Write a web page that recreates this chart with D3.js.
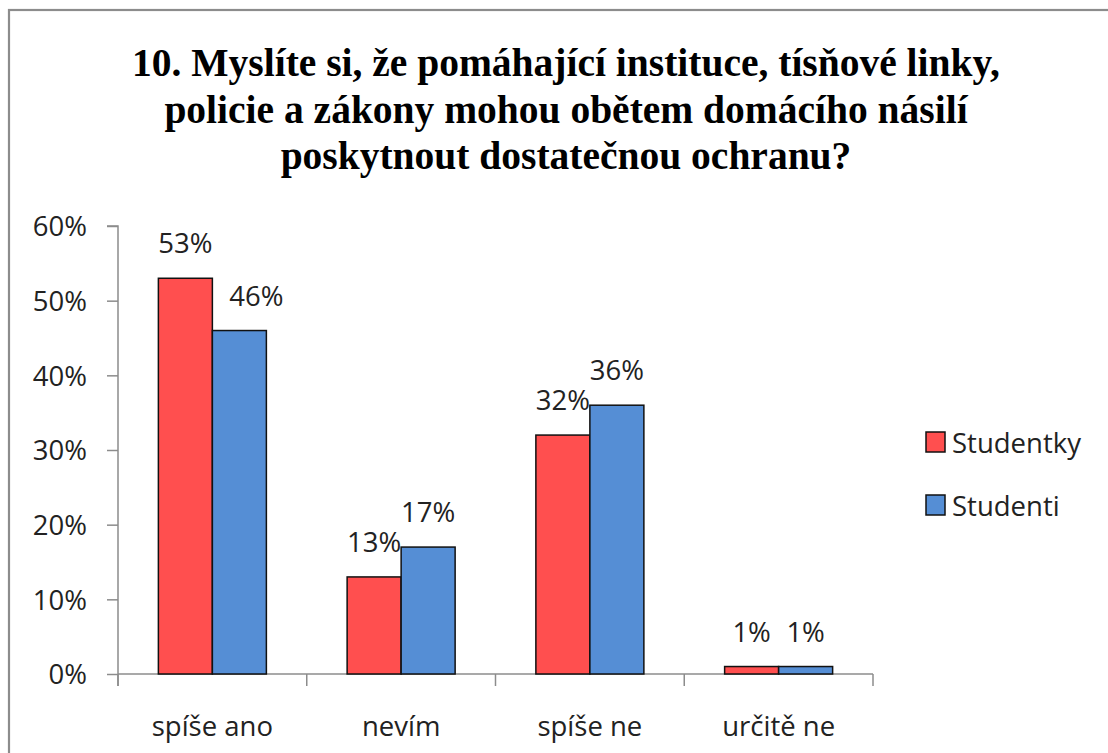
<!DOCTYPE html>
<html>
<head>
<meta charset="utf-8">
<script src="https://cdn.jsdelivr.net/npm/d3@7"></script>
<style>
  body { margin: 0; background: #fff; }
  svg { display: block; }
</style>
</head>
<body>
<div id="chart"></div>
<script>
const width = 1108;
const height = 753;

const titleLines = [
  "10. Myslíte si, že pomáhající instituce, tísňové linky,",
  "policie a zákony mohou obětem domácího násilí",
  "poskytnout dostatečnou ochranu?"
];
const categories = ["spíše ano", "nevím", "spíše ne", "určitě ne"];
const seriesNames = ["Studentky", "Studenti"];
const studentky = [53, 13, 32, 1];
const studenti = [46, 17, 36, 1];
const yTicks = [0, 10, 20, 30, 40, 50, 60];

const colors = ["#ff4f4f", "#558ed5"];
const font = "'Open Sans', sans-serif";
const fs = 27.5;

const svg = d3.select("#chart")
  .append("svg")
  .attr("width", width)
  .attr("height", height);

// outer frame (runs off the right and bottom edges)
svg.append("rect")
  .attr("x", 9)
  .attr("y", 10)
  .attr("width", 1120)
  .attr("height", 770)
  .attr("fill", "#fff")
  .attr("stroke", "#8c8c8c")
  .attr("stroke-width", 2.2);

const title = svg.append("text")
  .attr("text-anchor", "middle")
  .style("font-family", "'Liberation Serif', 'Times New Roman', serif")
  .style("font-weight", "bold")
  .style("font-size", "39.5px")
  .attr("fill", "#000");

titleLines.forEach((t, i) => {
  title.append("tspan")
    .attr("x", 566)
    .attr("y", 76 + i * 46.5)
    .text(t);
});

const plot = { left: 118, right: 873, top: 226, bottom: 674 };

const x = d3.scaleBand()
  .domain(categories)
  .range([plot.left, plot.right])
  .paddingInner(0)
  .paddingOuter(0);

const xSub = d3.scaleBand()
  .domain(seriesNames)
  .range([0, 108]);

const y = d3.scaleLinear()
  .domain([0, 60])
  .range([plot.bottom, plot.top]);

const axisColor = "#8c8c8c";

// y axis
const yAxis = svg.append("g")
  .attr("transform", `translate(${plot.left},0)`)
  .call(d3.axisLeft(y).tickValues(yTicks).tickSize(11).tickPadding(20).tickFormat(d => d + "%"));

yAxis.select(".domain").attr("stroke", axisColor).attr("stroke-width", 1.5)
  .attr("d", `M-11,${plot.top}H0V${plot.bottom + 12}`);
yAxis.selectAll(".tick line").attr("stroke", axisColor).attr("stroke-width", 1.5);
yAxis.selectAll(".tick text")
  .style("font-family", font)
  .style("font-size", fs + "px")
  .attr("fill", "#222")
  .attr("dy", "0.36em");

// x axis
const xAxis = svg.append("g")
  .attr("transform", `translate(0,${plot.bottom})`)
  .call(d3.axisBottom(x).tickSize(0).tickPadding(42));

xAxis.select(".domain").attr("stroke", axisColor).attr("stroke-width", 1.5)
  .attr("d", `M${plot.left},0H${plot.right}`);
xAxis.selectAll(".tick text")
  .style("font-family", font)
  .style("font-size", fs + "px")
  .attr("fill", "#222");

// category boundary ticks
const bounds = categories.map(c => x(c)).concat([x(categories[categories.length - 1]) + x.bandwidth()]);
svg.append("g")
  .selectAll("line")
  .data(bounds)
  .enter()
  .append("line")
  .attr("x1", d => d)
  .attr("x2", d => d)
  .attr("y1", plot.bottom)
  .attr("y2", plot.bottom + 12)
  .attr("stroke", axisColor)
  .attr("stroke-width", 1.5);

const rows = categories.map((c, i) => ({
  category: c,
  values: [studentky[i], studenti[i]]
}));

const groups = svg.append("g")
  .selectAll("g")
  .data(rows)
  .enter()
  .append("g")
  .attr("transform", d => `translate(${x(d.category) + (x.bandwidth() - 108) / 2},0)`);

groups.selectAll("rect")
  .data(d => d.values.map((v, j) => ({ series: seriesNames[j], value: v, index: j })))
  .enter()
  .append("rect")
  .attr("x", d => xSub(d.series))
  .attr("y", d => y(d.value))
  .attr("width", xSub.bandwidth())
  .attr("height", d => y(0) - y(d.value))
  .attr("fill", d => colors[d.index])
  .attr("stroke", "#111")
  .attr("stroke-width", 1.5);

groups.selectAll("text.label")
  .data(d => d.values.map((v, j) => ({ series: seriesNames[j], value: v, index: j, category: d.category })))
  .enter()
  .append("text")
  .attr("class", "label")
  .attr("x", d => xSub(d.series) + xSub.bandwidth() / 2 + (d.category === "spíše ano" && d.index === 1 ? 17 : 0))
  .attr("y", d => y(d.value) - 25)
  .attr("text-anchor", "middle")
  .style("font-family", font)
  .style("font-size", fs + "px")
  .attr("fill", "#222")
  .text(d => d.value + "%");

// legend
const legend = svg.append("g")
  .attr("transform", "translate(926,432)");

seriesNames.forEach((s, i) => {
  const g = legend.append("g")
    .attr("transform", `translate(0,${i * 63})`);

  g.append("rect")
    .attr("width", 19)
    .attr("height", 20)
    .attr("fill", colors[i])
    .attr("stroke", "#111")
    .attr("stroke-width", 1.5);

  g.append("text")
    .attr("x", 26)
    .attr("y", 21)
    .style("font-family", font)
    .style("font-size", fs + "px")
    .attr("fill", "#222")
    .text(s);
});
</script>
</body>
</html>
